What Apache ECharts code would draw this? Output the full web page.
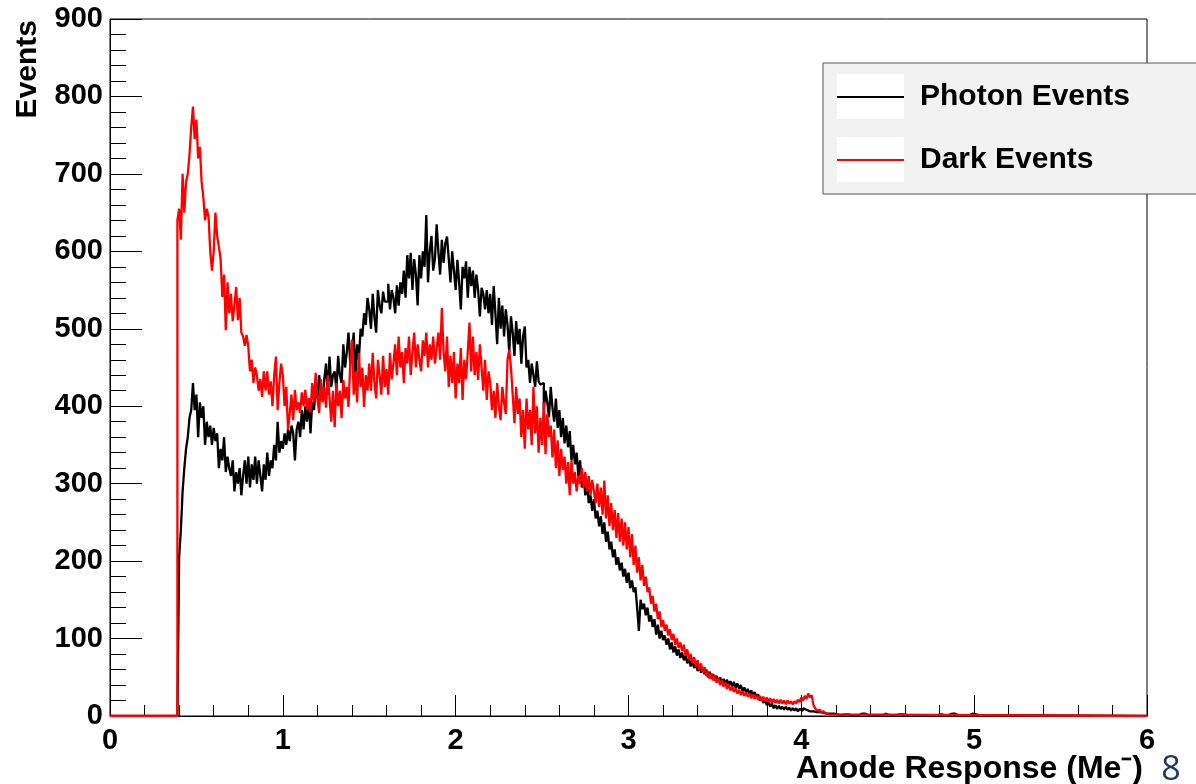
<!DOCTYPE html>
<html>
<head>
<meta charset="utf-8">
<script src="https://cdn.jsdelivr.net/npm/echarts@6/dist/echarts.min.js"></script>
<style>
html,body{margin:0;padding:0;background:#fff;}
#chart{width:1196px;height:784px;}
</style>
</head>
<body>
<div id="chart"></div>
<script>
// Histogram binning (x in Me-), counts per 0.01 bin starting at binStart
const binStart = 0.39;
const binWidth = 0.01;
const xMin = 0, xMax = 6;
const yMin = 0, yMax = 900;
const xTicks = [0, 1, 2, 3, 4, 5, 6];
const yTicks = [0, 100, 200, 300, 400, 500, 600, 700, 800, 900];
const seriesNames = ['Photon Events', 'Dark Events'];
const seriesColors = ['#000000', '#ff0000'];

// Photon Events (black), first bin at 0.39
const photonCounts = [
  0,
  205,240,290,320,345,360,385,395,430,395,
  415,360,405,385,400,350,380,360,375,350,
  372,355,365,320,345,330,360,315,335,320,
  310,330,290,315,300,320,285,310,330,300,
  335,295,325,305,335,300,330,310,290,325,
  305,340,310,330,320,350,330,380,340,355,
  345,365,350,370,355,375,365,330,370,380,
  360,395,370,400,380,410,365,405,395,420,
  410,440,420,408,435,455,415,464,425,440,
  445,420,465,440,430,480,450,470,495,455,
  470,495,440,480,460,500,490,520,505,540,
  525,500,545,515,495,550,530,520,548,535,
  535,558,525,550,540,520,556,530,560,545,
  575,540,595,565,598,550,590,570,530,595,
  565,600,580,647,560,600,620,575,590,635,
  600,570,615,585,610,619,590,560,600,575,
  550,589,560,525,580,565,587,540,580,555,
  575,540,570,550,516,553,545,525,550,520,
  545,505,555,520,480,540,500,530,490,525,
  505,470,516,495,465,510,480,500,455,490,
  503,450,460,430,455,440,425,458,432,428,
  430,395,420,405,386,425,398,380,410,372,
  395,360,385,352,375,347,368,330,350,325,
  340,310,330,295,310,285,300,275,285,265,
  280,255,265,245,258,235,250,225,238,215,
  225,205,215,195,205,188,198,180,190,172,
  185,165,175,160,166,140,110,150,138,145,
  130,140,122,130,115,125,105,118,100,110,
  98,104,92,100,86,95,82,90,78,86,
  75,82,72,78,68,75,64,72,62,68,
  58,66,56,62,54,60,50,57,48,54,
  46,52,44,50,42,48,41,47,40,45,
  38,44,36,42,35,40,32,37,30,35,
  28,33,26,31,24,28,20,24,17,21,
  14,18,12,16,10,14,9,13,9,12,
  8,12,8,11,7,10,7,10,6,9,
  7,10,8,9,6,8,6,7,5,6,
  5,6,4,5,3,4,3,4,3,2,
  2,1,1,2,2,1,2,2,1,1,
  1,1,1,2,3,3,3,2,1,1,
  1,1,1,1,1,2,1,3,3,1,
  1,1,1,1,1,1,2,2,2,1,
  1,1,1,1,1,1,1,1,1,1,
  1,1,1,1,1,1,1,1,1,2,
  2,1,1,1,1,1,3,3,3,1,
  1,1,1,1,1,1,1,1,3,3,
  2,1,1,1,1,1,1,1,1,1,1,1
];

// Dark Events (red), first bin at 0.39
const darkCounts = [
  640,
  655,615,700,650,690,700,725,760,787,745,
  770,720,735,690,670,640,655,645,600,575,
  600,650,620,606,590,541,570,498,560,520,
  545,510,530,554,511,540,495,490,478,492,
  477,445,460,430,450,440,420,435,412,445,
  420,445,415,432,400,440,464,395,430,455,
  440,400,425,370,390,415,382,421,395,405,
  391,418,400,421,395,410,392,430,405,443,
  410,391,435,405,425,398,440,412,380,420,
  373,430,400,420,385,434,410,425,399,455,
  486,415,445,405,469,425,450,399,440,420,
  455,420,469,430,410,460,440,415,465,425,
  448,415,469,435,455,480,440,490,450,470,
  430,475,455,490,440,470,495,450,480,460,
  445,485,465,495,450,480,460,490,455,475,
  495,460,527,470,445,490,425,465,430,470,
  410,455,430,475,408,460,435,470,508,445,
  490,440,470,434,480,450,420,460,408,445,
  430,395,420,385,430,400,382,425,405,390,
  460,473,450,415,378,425,390,410,360,395,
  345,410,370,395,350,425,365,400,340,385,
  350,405,338,390,360,375,334,370,320,356,
  310,345,318,335,300,328,285,330,300,315,
  290,310,300,320,295,315,290,310,285,305,
  290,275,300,270,295,260,304,255,285,245,
  275,240,266,230,262,225,255,220,250,215,
  244,205,235,195,220,185,205,175,195,168,
  180,160,166,145,155,135,145,125,135,115,
  124,110,118,104,112,98,106,92,100,88,
  95,84,92,78,86,72,80,68,76,64,
  72,60,68,56,63,52,58,48,55,46,
  52,43,49,40,46,38,43,35,41,33,
  38,31,36,29,34,27,32,26,30,25,
  29,23,28,22,27,21,26,20,25,19,
  24,18,23,17,22,17,21,16,21,16,
  20,15,20,16,19,15,19,16,21,18,
  24,20,26,22,29,24,27,14,10,7,
  8,5,6,4,3,2,1
];

function histPoints(counts) {
  const pts = [[xMin, 0]];
  for (let i = 0; i < counts.length; i++) {
    const x = Math.round((binStart + i * binWidth) * 1000) / 1000;
    pts.push([x, counts[i]]);
  }
  const xEnd = Math.round((binStart + counts.length * binWidth) * 1000) / 1000;
  pts.push([xEnd, 0]);
  pts.push([xMax, 0]);
  return pts;
}

const FONT = 'Liberation Sans, Arial, Helvetica, sans-serif';
const chart = echarts.init(document.getElementById('chart'), null, {renderer: 'canvas'});

const legendRows = [97, 160];
const legendGraphics = [
  {type: 'rect', z: 10, shape: {x: 823, y: 63, width: 400, height: 131},
   style: {fill: '#f2f2f2', stroke: '#555', lineWidth: 1}}
];
seriesNames.forEach((name, i) => {
  const cy = legendRows[i];
  legendGraphics.push(
    {type: 'rect', z: 11, shape: {x: 837, y: cy - 23, width: 67, height: 45}, style: {fill: '#ffffff'}},
    {type: 'line', z: 12, shape: {x1: 837, y1: cy, x2: 904, y2: cy}, style: {stroke: seriesColors[i], lineWidth: 2}},
    {type: 'text', z: 12, x: 920, y: cy,
     style: {text: name, fontFamily: FONT, fontWeight: 'bold', fontSize: 30, fill: '#000',
             align: 'left', verticalAlign: 'middle'}}
  );
});

chart.setOption({
  animation: false,
  backgroundColor: '#ffffff',
  grid: {
    left: 110, top: 19, right: 49, bottom: 68,
    show: true, borderColor: '#000', borderWidth: 1, backgroundColor: 'transparent'
  },
  xAxis: {
    type: 'value', min: xMin, max: xMax, interval: 1,
    axisLine: {show: true, lineStyle: {color: '#000', width: 1}},
    axisTick: {show: true, inside: true, length: 21, lineStyle: {color: '#000', width: 1}},
    minorTick: {show: true, splitNumber: 5, length: 11, lineStyle: {color: '#000', width: 1}},
    splitLine: {show: false},
    axisLabel: {
      fontFamily: FONT, fontWeight: 'bold', fontSize: 29, color: '#000', margin: 10,
      formatter: v => xTicks.includes(v) ? String(v) : ''
    }
  },
  yAxis: {
    type: 'value', min: yMin, max: yMax, interval: 100,
    axisLine: {show: true, lineStyle: {color: '#000', width: 1}},
    axisTick: {show: true, inside: true, length: 32, lineStyle: {color: '#000', width: 1}},
    minorTick: {show: true, splitNumber: 5, length: 16, lineStyle: {color: '#000', width: 1}},
    splitLine: {show: false},
    axisLabel: {
      fontFamily: FONT, fontWeight: 'bold', fontSize: 29, color: '#000', margin: 7,
      formatter: v => yTicks.includes(v) ? String(v) : ''
    }
  },
  graphic: legendGraphics.concat([
    {type: 'text', z: 5, x: 28, y: 20, rotation: Math.PI / 2,
     style: {text: 'Events', fontFamily: FONT, fontWeight: 'bold', fontSize: 30, fill: '#000',
             align: 'right', verticalAlign: 'middle'}},
    {type: 'text', z: 5, x: 1143, y: 769,
     style: {text: 'Anode Response (Me\u207B)', fontFamily: FONT, fontWeight: 'bold', fontSize: 32, fill: '#000',
             align: 'right', verticalAlign: 'middle'}},
    {type: 'text', z: 5, x: 1171, y: 770,
     style: {text: '8', fontFamily: 'Open Sans, Noto Sans, sans-serif', fontSize: 34, fill: '#203864',
             align: 'center', verticalAlign: 'middle'}}
  ]),
  series: [
    {
      name: seriesNames[0], type: 'line', step: 'end', showSymbol: false, symbol: 'none',
      data: histPoints(photonCounts),
      lineStyle: {color: seriesColors[0], width: 2.3}, itemStyle: {color: seriesColors[0]},
      z: 2
    },
    {
      name: seriesNames[1], type: 'line', step: 'end', showSymbol: false, symbol: 'none',
      data: histPoints(darkCounts),
      lineStyle: {color: seriesColors[1], width: 2.3}, itemStyle: {color: seriesColors[1]},
      z: 3
    }
  ]
});
</script>
</body>
</html>
